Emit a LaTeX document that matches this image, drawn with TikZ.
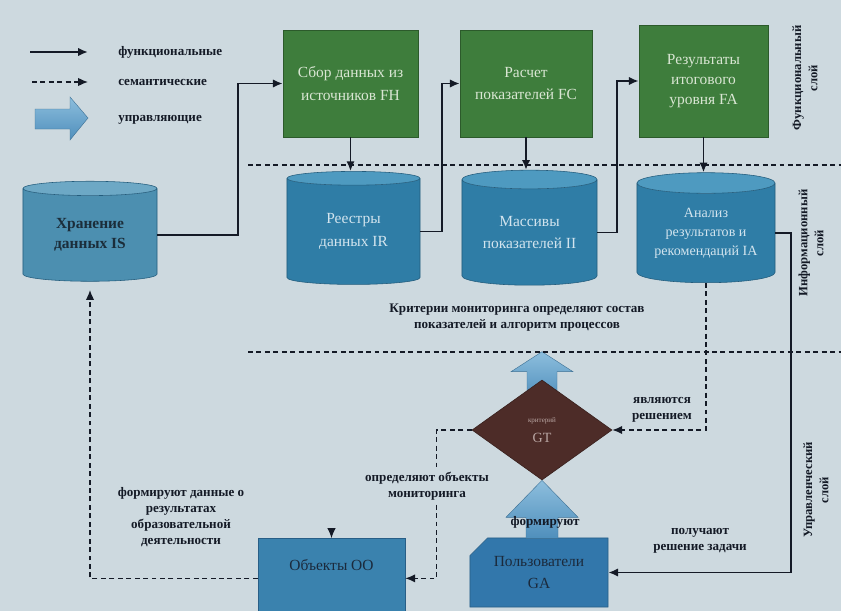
\documentclass[tikz,border=0pt]{standalone}
\usepackage{fontspec}
\setmainfont{Liberation Serif}
\usetikzlibrary{shapes.geometric,shapes.misc,arrows.meta,calc,backgrounds}
\definecolor{paper}{HTML}{CDD9DF}
\definecolor{ink}{HTML}{141A26}
\definecolor{fgreen}{HTML}{3E7D3C}
\definecolor{fedge}{HTML}{2C5A2B}
\definecolor{ftext}{HTML}{D9E6D3}
\definecolor{dbbody}{HTML}{2F7DA6}
\definecolor{dbend}{HTML}{4E9AC0}
\definecolor{dbedge}{HTML}{235C7C}
\definecolor{dbtext}{HTML}{D2E4EE}
\definecolor{isbody}{HTML}{4C8FB0}
\definecolor{isend}{HTML}{6DA8C5}
\definecolor{istext}{HTML}{1B2D3A}
\definecolor{gtfill}{HTML}{4D2C28}
\definecolor{gttext}{HTML}{B9A6A3}
\definecolor{oofill}{HTML}{3A82AE}
\definecolor{gafill}{HTML}{3277AB}
\definecolor{gedge}{HTML}{285E86}
\definecolor{gtext}{HTML}{1B2A3C}
\definecolor{ctrltop}{HTML}{8DBEDD}
\definecolor{ctrlbot}{HTML}{4F8FBC}

\begin{document}
\begin{tikzpicture}[x=0.025cm,y=-0.025cm,
  func/.style={draw=ink,line width=1.4pt,-{Latex[length=7pt,width=6pt]}},
  sem/.style={draw=ink,line width=1pt,dash pattern=on 3.5pt off 2.5pt,-{Latex[length=7pt,width=6pt]}},
  sep/.style={draw=ink,line width=1pt,dash pattern=on 3.5pt off 2.5pt},
  ctrl/.style={draw=ctrlbot!80!black,line width=0.3pt,top color=ctrltop,bottom color=ctrlbot},
  fbox/.style={rectangle,draw=fedge,fill=fgreen,text=ftext,inner sep=0pt,align=center,font=\fontsize{11}{16}\selectfont},
  db/.style={cylinder,shape border rotate=90,aspect=0.2,draw=dbedge,cylinder uses custom fill,cylinder body fill=dbbody,cylinder end fill=dbend,text=dbtext,inner sep=0pt,align=center,font=\fontsize{11}{16}\selectfont},
  gbox/.style={draw=gedge,text=gtext,inner sep=0pt,align=center,font=\fontsize{11}{15}\selectfont},
  note/.style={text=ink,align=center,font=\fontsize{9.3}{11.5}\selectfont\bfseries},
  layer/.style={rotate=90,text=ink,align=center,font=\fontsize{9}{11.5}\selectfont\bfseries}]
\useasboundingbox (0,0) rectangle (841,611);
\begin{pgfonlayer}{background}
\fill[paper] (0,0) rectangle (841,611);
\end{pgfonlayer}

\coordinate (l1a) at (30,52);
\coordinate (l1b) at (88,52);
\coordinate (l2a) at (32,82);
\coordinate (l2b) at (88,82);
\draw[func] (l1a) -- (l1b);
\draw[sem] (l2a) -- (l2b);
\shade[ctrl,top color=ctrltop,bottom color=ctrlbot] (35,109) -- (70,109) -- (70,97) -- (88,118) -- (70,140) -- (70,129) -- (35,129) -- cycle;
\node[note,anchor=west,inner sep=0pt] (lfunc) at (118,52) {функциональные};
\node[note,anchor=west,inner sep=0pt] (lsem) at (118,82) {семантические};
\node[note,anchor=west,inner sep=0pt] (lctrl) at (118,120) {управляющие};

\node[fbox,minimum width=3.375cm,minimum height=2.675cm] (FH) at (350.5,83.5) {Сбор данных из\\источников FH};
\node[fbox,minimum width=3.3cm,minimum height=2.675cm] (FC) at (526,83.5) {Расчет\\показателей FC};
\node[fbox,minimum width=3.225cm,minimum height=2.8cm,font=\fontsize{11}{14}\selectfont] (FA) at (703.5,81) {Результаты\\итогового\\уровня FA};

\node[db,minimum width=3.35cm,minimum height=2.5cm,cylinder body fill=isbody,cylinder end fill=isend,text=istext,font=\fontsize{11}{14}\selectfont\bfseries] (IS) at (90,235) {Хранение\\данных IS};
\node[db,minimum width=3.325cm,minimum height=2.825cm] (IR) at (353.5,231.5) {Реестры\\данных IR};
\node[db,minimum width=3.375cm,minimum height=2.875cm] (II) at (529.5,232.5) {Массивы\\показателей II};
\node[db,minimum width=3.45cm,minimum height=2.75cm,font=\fontsize{10}{13.5}\selectfont] (IA) at (706,233) {Анализ\\результатов и\\рекомендаций IA};

\draw[sep] (248,165) -- (841,165);
\draw[sep] (248,352) -- (841,352);

\node[diamond,draw=gtfill!70!black,fill=gtfill,text=gttext,inner sep=0pt,minimum width=3.5cm,minimum height=2.5cm,align=center] (GT) at (542,430) {{\fontsize{5}{6}\selectfont критерий}\\[2pt]{\fontsize{10}{12}\selectfont GT}};
\node[gbox,rectangle,fill=oofill,minimum width=3.675cm,text height=23pt,text depth=34pt,anchor=north] (OO) at (331.5,538) {Объекты OO};
\node[gbox,chamfered rectangle,chamfered rectangle corners=north west,chamfered rectangle sep=0.22cm,fill=gafill,minimum width=3.45cm,minimum height=1.725cm] (GA) at (539,572.5) {Пользователи\\GA};

\begin{pgfonlayer}{background}
\shade[ctrl] ($(GT.north)+(-15,20)$) -- ++(0,-28) -- ++(-16,0) -- ++(31,-20) -- ++(31,20) -- ++(-16,0) -- ++(0,28) -- cycle;
\end{pgfonlayer}
\shade[ctrl] (GT.south) -- ++(36,37) -- ++(-20,0) -- ++(0,21) -- ++(-32,0) -- ++(0,-21) -- ++(-20,0) -- cycle;

\draw[func] (IS.east) -- ++(81,0) |- (FH.west);
\draw[func] (IR.east) -- ++(22,0) |- (FC.west);
\draw[func] (II.east) -- ++(20,0) |- (FA.west);
\draw[func] (FH.south) -- (FH.south |- IR.north);
\draw[func] (FC.south) -- (FC.south |- II.north);
\draw[func] (FA.south) -- (FA.south |- IA.north);
\draw[func] (IA.east) -- ++(16,0) |- (GA.east);
\draw[sem] (IA.south) |- (GT.east);
\draw[sem] (GT.west) -- ++(-35,0) |- (OO.east);
\draw[sem,shorten >=6pt] (OO.west) -| (IS.south);
\draw[func,line width=0.6pt] ($(OO.north)+(0,-9)$) -- (OO.north);

\node[note] (crit) at (517,318) {Критерии мониторинга определяют состав\\показателей и алгоритм процессов};
\node[note] (sol) at (662,410) {являются\\решением};
\node[note,fill=paper,inner sep=1pt] (objs) at (427,486) {определяют объекты\\мониторинга};
\node[note] (form) at (181,517) {формируют данные о\\результатах\\образовательной\\деятельности};
\node[note] (recv) at (700,541) {получают\\решение задачи};
\node[note] (mk) at (545,522) {формируют};

\node[layer] (Lf) at (805,78) {Функциональный\\слой};
\node[layer] (Li) at (811,243) {Информационный\\слой};
\node[layer] (Lu) at (816,490) {Управленческий\\слой};
\end{tikzpicture}
\end{document}
